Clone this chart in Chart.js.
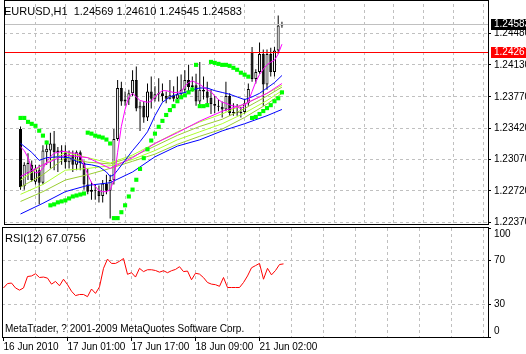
<!DOCTYPE html>
<html>
<head>
<meta charset="utf-8">
<title>EURUSD,H1</title>
<script src="https://cdn.jsdelivr.net/npm/chart.js@4.4.1/dist/chart.umd.min.js"></script>
<style>
  html, body { margin: 0; padding: 0; background: #fff; }
  #chartWrap { position: relative; width: 526px; height: 354px; overflow: hidden; background: #fff; }
  #mainCanvas { position: absolute; left: 0; top: 0; }
  #rsiCanvas { position: absolute; left: 0; top: 227px; }
</style>
</head>
<body>
<div id="chartWrap">
  <canvas id="mainCanvas" width="526" height="228"></canvas>
  <canvas id="rsiCanvas" width="526" height="127"></canvas>
</div>
<script>
// ---- texts ----
const symbolTitle = "EURUSD,H1  1.24569 1.24610 1.24545 1.24583";
const rsiTitle = "RSI(12) 67.0756";
const copyrightText = "MetaTrader, ? 2001-2009 MetaQuotes Software Corp.";

// ---- H1 candles, bar 0 = 16 Jun 2010 ----
const opens = [1.2341, 1.2277, 1.2292, 1.2301, 1.2282, 1.2295, 1.2281, 1.2315, 1.2317, 1.2325,
  1.2315, 1.2317, 1.2315, 1.2304, 1.2312, 1.2301, 1.2315, 1.2303, 1.2279, 1.2271,
  1.2273, 1.2272, 1.2266, 1.2280, 1.2272, 1.2284, 1.2330, 1.2387, 1.2372, 1.2374,
  1.2381, 1.2396, 1.2364, 1.2367, 1.2354, 1.2383, 1.2375, 1.2380, 1.2381, 1.2378,
  1.2375, 1.2379, 1.2375, 1.2380, 1.2385, 1.2396, 1.2388, 1.2390, 1.2372, 1.2385,
  1.2383, 1.2376, 1.2369, 1.2367, 1.2366, 1.2363, 1.2378, 1.2359, 1.2360, 1.2359,
  1.2360, 1.2370, 1.2427, 1.2397, 1.2405, 1.2425, 1.2391, 1.2425, 1.2405, 1.2429,
  1.24569];
const highs = [1.2344, 1.2304, 1.2314, 1.2306, 1.2301, 1.2301, 1.2323, 1.2328, 1.2337, 1.2339,
  1.2321, 1.2323, 1.2323, 1.2317, 1.2317, 1.2317, 1.2317, 1.2306, 1.2297, 1.2282,
  1.2279, 1.2278, 1.2284, 1.2290, 1.2290, 1.2341, 1.2396, 1.2394, 1.2383, 1.2385,
  1.2407, 1.2411, 1.2372, 1.2372, 1.2392, 1.2400, 1.2389, 1.2398, 1.2392, 1.2383,
  1.2396, 1.2389, 1.2400, 1.2402, 1.2407, 1.2413, 1.2400, 1.2403, 1.2416, 1.2400,
  1.2394, 1.2385, 1.2378, 1.2374, 1.2372, 1.2394, 1.2381, 1.2370, 1.2369, 1.2366,
  1.2375, 1.2392, 1.2433, 1.2408, 1.2438, 1.2430, 1.2430, 1.2432, 1.2433, 1.2468,
  1.24610];
const lows = [1.2273, 1.2273, 1.2284, 1.2282, 1.2279, 1.2257, 1.2279, 1.2301, 1.2297, 1.2295,
  1.2293, 1.2301, 1.2297, 1.2297, 1.2293, 1.2295, 1.2295, 1.2273, 1.2268, 1.2262,
  1.2262, 1.2259, 1.2259, 1.2268, 1.2241, 1.2279, 1.2328, 1.2367, 1.2367, 1.2368,
  1.2378, 1.2361, 1.2339, 1.2348, 1.2350, 1.2364, 1.2372, 1.2372, 1.2372, 1.2370,
  1.2374, 1.2372, 1.2374, 1.2378, 1.2381, 1.2383, 1.2383, 1.2367, 1.2369, 1.2374,
  1.2367, 1.2358, 1.2359, 1.2361, 1.2354, 1.2361, 1.2356, 1.2356, 1.2356, 1.2354,
  1.2358, 1.2367, 1.2394, 1.2392, 1.2403, 1.2367, 1.2385, 1.2400, 1.2400, 1.2425,
  1.24545];
const closes = [1.2276, 1.2301, 1.2303, 1.2284, 1.2297, 1.2281, 1.2317, 1.2319, 1.2325, 1.2315,
  1.2317, 1.2315, 1.2304, 1.2312, 1.2301, 1.2315, 1.2303, 1.2279, 1.2271, 1.2273,
  1.2272, 1.2266, 1.2280, 1.2272, 1.2284, 1.2330, 1.2387, 1.2372, 1.2374, 1.2381,
  1.2396, 1.2364, 1.2367, 1.2354, 1.2383, 1.2375, 1.2380, 1.2381, 1.2378, 1.2375,
  1.2379, 1.2375, 1.2380, 1.2385, 1.2396, 1.2388, 1.2390, 1.2372, 1.2385, 1.2383,
  1.2376, 1.2369, 1.2367, 1.2366, 1.2363, 1.2378, 1.2359, 1.2360, 1.2359, 1.2360,
  1.2370, 1.2386, 1.2397, 1.2405, 1.2425, 1.2391, 1.2425, 1.2405, 1.2429, 1.24569,
  1.24583];

// ---- Parabolic SAR ----
const sarValues = [1.23535, 1.23535, 1.23491, 1.23469, 1.23447, 1.23392, 1.23337, 1.23260,
  1.22557, 1.22568, 1.22590, 1.22601, 1.22612, 1.22634, 1.22656, 1.22667, 1.22678, 1.22689,
  1.23370, 1.23359, 1.23337, 1.23326, 1.23315, 1.23293, 1.23249,
  1.22414, 1.22414, 1.22480, 1.22557, 1.22656, 1.22733, 1.22843, 1.22964, 1.23085, 1.23184,
  1.23282, 1.23359, 1.23436, 1.23502, 1.23568, 1.23623, 1.23667, 1.23722, 1.23766, 1.23788,
  1.23821, 1.23854,
  1.24129, 1.23667, 1.23667, 1.23678,
  1.24162, 1.24151, 1.24140, 1.24129, 1.24129, 1.24118, 1.24096, 1.24074, 1.24041, 1.24019, 1.23997,
  1.23535, 1.23546, 1.23579, 1.23612, 1.23645, 1.23678, 1.23722, 1.23755, 1.23821];

// ---- moving averages ----
const maFast = [1.2321, 1.2317, 1.2309, 1.2297, 1.2292, 1.2293, 1.2297, 1.2304, 1.2310, 1.2314,
  1.2315, 1.2316, 1.2316, 1.2315, 1.2314, 1.2314, 1.2312, 1.2301, 1.2290, 1.2281,
  1.2277, 1.2272, 1.2271, 1.2271, 1.2273, 1.2284, 1.2315, 1.2344, 1.2363, 1.2377,
  1.2381, 1.2377, 1.2373, 1.2372, 1.2371, 1.2372, 1.2377, 1.2381, 1.2384, 1.2384,
  1.2383, 1.2382, 1.2382, 1.2383, 1.2389, 1.2393, 1.2395, 1.2393, 1.2391, 1.2388,
  1.2385, 1.2383, 1.2378, 1.2374, 1.2371, 1.2370, 1.2368, 1.2367, 1.2366, 1.2364,
  1.2367, 1.2372, 1.2383, 1.2394, 1.2402, 1.2408, 1.2413, 1.2416, 1.2418, 1.2425,
  1.2436];

const maMidBars = [0, 3, 5, 7, 10, 13, 15, 17, 19, 21, 23, 24, 25, 26, 28, 30, 32, 34, 36, 38,
  40, 42, 44, 46, 48, 50, 52, 54, 56, 58, 60, 62, 64, 66, 68, 70];
const maMid = [1.2325, 1.2315, 1.2306, 1.2309, 1.2310, 1.2309, 1.2305, 1.2302, 1.2301, 1.2299,
  1.2293, 1.2288, 1.2290, 1.2295, 1.2306, 1.2317, 1.2327, 1.2338, 1.2356, 1.2371,
  1.2377, 1.2380, 1.2382, 1.2385, 1.2387, 1.2387, 1.2384, 1.2382, 1.2380, 1.2377,
  1.2374, 1.2377, 1.2381, 1.2387, 1.2393, 1.2401];

const ribbonBars = [0, 6, 12, 18, 24, 30, 36, 42, 48, 54, 60, 66, 70];
const maSlowMagenta = [1.2288, 1.2301, 1.2312, 1.2309, 1.2297, 1.2309, 1.2325, 1.2337, 1.2350, 1.2361, 1.2369, 1.2381, 1.2392];
const maGreen1 = [1.2284, 1.2301, 1.2315, 1.2309, 1.2303, 1.2312, 1.2325, 1.2338, 1.2349, 1.2358, 1.2369, 1.2381, 1.2390];
const maGreen2 = [1.2276, 1.2290, 1.2309, 1.2304, 1.2302, 1.2310, 1.2322, 1.2334, 1.2344, 1.2352, 1.2364, 1.2378, 1.2388];
const maGreen3 = [1.2268, 1.2279, 1.2295, 1.2297, 1.2300, 1.2307, 1.2317, 1.2329, 1.2338, 1.2347, 1.2359, 1.2373, 1.2384];
const maGreen4 = [1.2260, 1.2271, 1.2284, 1.2290, 1.2297, 1.2305, 1.2313, 1.2324, 1.2333, 1.2341, 1.2354, 1.2369, 1.2381];
const maSlowBlue = [1.2246, 1.2258, 1.2271, 1.2278, 1.2281, 1.2293, 1.2310, 1.2322, 1.2329, 1.2339, 1.2347, 1.2356, 1.2363];

// ---- RSI(12) ----
const rsiValues = [45, 49, 49.5, 45, 43, 45, 55.5, 56, 58, 54.6,
  55, 54, 48.5, 51, 47, 53, 48, 42, 38, 39,
  39, 37, 44, 40, 46, 63, 71.5, 67.5, 67.5, 69.5,
  72, 57.5, 59, 55, 63, 60, 61.7, 61.7, 61, 59.5,
  60.8, 59, 60.8, 62, 64.5, 60, 60.5, 52.5, 58.5, 57.7,
  54.5, 50, 48.5, 48, 46.5, 54.6, 45.4, 45.4, 45.4, 45.4,
  50, 56, 63.5, 65.5, 67.5, 53, 63, 57, 61, 66.5,
  67.08];

// ---- axes ----
const priceTicks = [1.22370, 1.22720, 1.23070, 1.23420, 1.23770, 1.24130, 1.24480];
const rsiTicks = [0, 30, 70, 100];
const gridBars = [0, 8, 16, 24, 32, 40, 48, 56, 64, 72, 80, 88, 96, 104, 112, 120];
const timeLabelBars = [0, 16, 32, 48, 64];
const timeLabels = ["16 Jun 2010", "17 Jun 01:00", "17 Jun 17:00", "18 Jun 09:00", "21 Jun 02:00"];
const bidPrice = 1.24583;
const levelPrice = 1.24267;

const PRICE_MIN = 1.22348;
const PRICE_MAX = 1.24810;
const X_MIN = -0.375;
const X_MAX = 121.125;

const FONT = '"Liberation Sans Narrow", "Liberation Sans", sans-serif';
const GRID = "#c0c0c0";

Chart.defaults.font.family = FONT;
Chart.defaults.font.size = 10;
Chart.defaults.color = "#000";
Chart.defaults.animation = false;

const pts = (xs, ys) => ys.map((v, i) => ({ x: xs[i], y: v }));
const barIdx = closes.map((_, i) => i);

function lineSet(xs, ys, color, order) {
    return {
        type: "line",
        data: pts(xs, ys),
        borderColor: color,
        borderWidth: 1,
        pointRadius: 0,
        tension: 0,
        order: order,
    };
}

function fixWidth(scale) {
    scale.width = 38;
    scale.paddingTop = 0;
    scale.paddingBottom = 0;
}

const xGrid = {
    color: (c) => (c.tick && c.tick.value === 0 ? "rgba(0,0,0,0)" : GRID),
};

const mainDecor = {
    id: "mainDecor",
    afterDatasetsDraw(chart) {
        const { ctx, chartArea: a, scales } = chart;
        ctx.save();
        [[bidPrice, GRID], [levelPrice, "#ff0000"]].forEach(([p, c]) => {
            const py = Math.floor(scales.y.getPixelForValue(p)) + 0.5;
            ctx.strokeStyle = c;
            ctx.lineWidth = 1;
            ctx.beginPath();
            ctx.moveTo(a.left, py);
            ctx.lineTo(a.right, py);
            ctx.stroke();
        });
        ctx.restore();
    },
    afterDraw(chart) {
        const { ctx, chartArea: a, scales } = chart;
        ctx.save();
        ctx.strokeStyle = "#000";
        ctx.lineWidth = 1;
        ctx.strokeRect(a.left + 0.5, 0.5, a.right - a.left, a.bottom);

        ctx.font = "10px " + FONT;
        ctx.textBaseline = "middle";
        [[bidPrice, "#000"], [levelPrice, "#ff0000"]].forEach(([p, c]) => {
            const py = Math.floor(scales.y.getPixelForValue(p));
            ctx.fillStyle = c;
            ctx.fillRect(a.right + 3, py - 5, 38, 11);
            ctx.fillStyle = "#fff";
            ctx.fillText(p.toFixed(5), a.right + 6, py + 0.5);
        });

        ctx.fillStyle = "#000";
        ctx.font = "11px " + FONT;
        ctx.textBaseline = "alphabetic";
        ctx.fillText(symbolTitle, 4, 15);
        ctx.restore();
    },
};

new Chart(document.getElementById("mainCanvas"), {
    data: {
        datasets: [
            {
                type: "bar",
                data: barIdx.map((i) => ({ x: i, y: [lows[i], highs[i]] })),
                backgroundColor: "#000",
                barThickness: 1,
                grouped: false,
                inflateAmount: 0,
                order: 20,
            },
            {
                type: "bar",
                data: barIdx.map((i) => ({ x: i, y: [opens[i], closes[i]] })),
                backgroundColor: barIdx.map((i) => (closes[i] >= opens[i] ? "#fff" : "#000")),
                borderColor: "#000",
                borderWidth: 1,
                borderSkipped: false,
                barThickness: 3,
                minBarLength: 1,
                grouped: false,
                inflateAmount: 0,
                order: 19,
            },
            lineSet(ribbonBars, maSlowBlue, "#0000ff", 9),
            lineSet(ribbonBars, maGreen4, "#9acd32", 8),
            lineSet(ribbonBars, maGreen3, "#adff2f", 7),
            lineSet(ribbonBars, maGreen2, "#9acd32", 6),
            lineSet(ribbonBars, maGreen1, "#adff2f", 5),
            lineSet(ribbonBars, maSlowMagenta, "#ff00ff", 4),
            lineSet(maMidBars, maMid, "#0000ff", 3),
            lineSet(barIdx, maFast, "#ff00ff", 2),
            {
                type: "line",
                data: pts(barIdx, sarValues),
                showLine: false,
                pointStyle: "rect",
                pointRadius: 2.9,
                pointBorderWidth: 0,
                pointBackgroundColor: "#00ff00",
                order: 0,
            },
        ],
    },
    options: {
        responsive: false,
        layout: { padding: { left: 2, top: 1, right: 0, bottom: 3 } },
        plugins: { legend: { display: false }, tooltip: { enabled: false } },
        scales: {
            x: {
                type: "linear",
                min: X_MIN,
                max: X_MAX,
                afterBuildTicks: (s) => { s.ticks = gridBars.map((v) => ({ value: v })); },
                afterFit: (s) => { s.height = 0; },
                ticks: { display: false },
                grid: { ...xGrid, drawTicks: false },
                border: { display: false, dash: [3, 3] },
            },
            y: {
                position: "right",
                min: PRICE_MIN,
                max: PRICE_MAX,
                afterBuildTicks: (s) => { s.ticks = priceTicks.map((v) => ({ value: v })); },
                afterFit: fixWidth,
                ticks: { padding: 3, callback: (v) => v.toFixed(5) },
                grid: { color: GRID, tickColor: "#000", tickLength: 3 },
                border: { display: false, dash: [3, 3] },
            },
        },
    },
    plugins: [mainDecor],
});

const rsiDecor = {
    id: "rsiDecor",
    afterDraw(chart) {
        const { ctx, chartArea: a } = chart;
        ctx.save();
        ctx.strokeStyle = "#000";
        ctx.lineWidth = 1;
        ctx.strokeRect(a.left + 0.5, 0.5, a.right - a.left, a.bottom);
        ctx.fillStyle = "#000";
        ctx.font = "11px " + FONT;
        ctx.textBaseline = "alphabetic";
        ctx.fillText(rsiTitle, 5, 15);
        ctx.font = "10px " + FONT;
        ctx.fillText(copyrightText, 5, 105);
        ctx.textBaseline = "middle";
        ctx.fillText(String(rsiTicks[3]), a.right + 6, 7);
        ctx.fillText(String(rsiTicks[0]), a.right + 6, 104);
        ctx.restore();
    },
};

new Chart(document.getElementById("rsiCanvas"), {
    type: "line",
    data: {
        datasets: [{
            data: pts(barIdx, rsiValues),
            borderColor: "#ff0000",
            borderWidth: 1,
            pointRadius: 0,
            tension: 0,
        }],
    },
    options: {
        responsive: false,
        layout: { padding: { left: 2, top: 1, right: 0, bottom: 0 } },
        plugins: { legend: { display: false }, tooltip: { enabled: false } },
        scales: {
            x: {
                type: "linear",
                min: X_MIN,
                max: X_MAX,
                afterBuildTicks: (s) => { s.ticks = gridBars.map((v) => ({ value: v })); },
                afterFit: (s) => { s.height = 17; },
                ticks: {
                    align: "start",
                    padding: 0,
                    maxRotation: 0,
                    autoSkip: false,
                    callback: (v) => {
                        const k = timeLabelBars.indexOf(v);
                        return k >= 0 ? timeLabels[k] : "";
                    },
                },
                grid: {
                    ...xGrid,
                    tickLength: 4,
                    tickColor: (c) => (c.tick && timeLabelBars.includes(c.tick.value) ? "#000" : "rgba(0,0,0,0)"),
                },
                border: { display: false, dash: [3, 3] },
            },
            y: {
                position: "right",
                min: 0,
                max: 100,
                afterBuildTicks: (s) => { s.ticks = rsiTicks.map((v) => ({ value: v })); },
                afterFit: fixWidth,
                ticks: { padding: 3, callback: (v) => (v === 30 || v === 70 ? String(v) : "") },
                grid: {
                    color: (c) => (c.tick && (c.tick.value === 30 || c.tick.value === 70) ? GRID : "rgba(0,0,0,0)"),
                    tickColor: "#000",
                    tickLength: 3,
                },
                border: { display: false, dash: [3, 3] },
            },
        },
    },
    plugins: [rsiDecor],
});
</script>
</body>
</html>
